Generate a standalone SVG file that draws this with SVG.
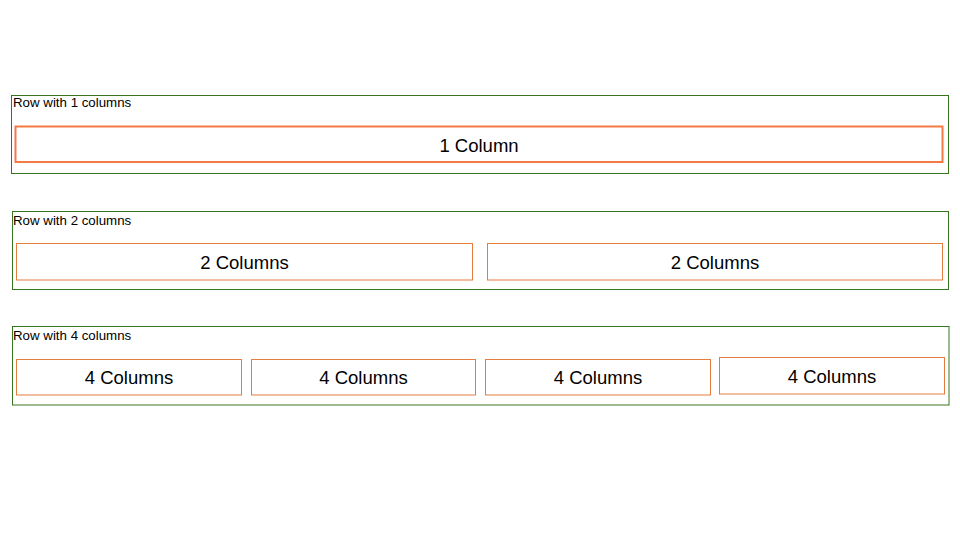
<svg xmlns="http://www.w3.org/2000/svg" width="960" height="540" viewBox="0 0 960 540">
<style>
.row{fill:#fff;stroke:#38761d;stroke-width:1}
.col{fill:#fff;stroke:#e47d3e;stroke-width:1}
.col1{fill:#fff;stroke:#f37a45;stroke-width:2}
.lbl{font-family:"Liberation Sans",Arial,sans-serif;font-size:13.3px;fill:#000}
.ct{font-family:"Liberation Sans",Arial,sans-serif;font-size:18.5px;fill:#000;text-anchor:middle}
</style>
<rect width="960" height="540" fill="#fff"/>
<g id="row1">
<rect class="row" x="11.5" y="95.5" width="937" height="78"/>
<text class="lbl" x="13" y="106.5">Row with 1 columns</text>
<g id="r1c1"><rect class="col1" x="15.5" y="126.5" width="927" height="35.5"/><text class="ct" x="479" y="151.5">1 Column</text></g>
</g>
<g id="row2">
<rect class="row" x="12.5" y="211.5" width="936" height="78"/>
<text class="lbl" x="13" y="224.5">Row with 2 columns</text>
<g id="r2c1"><rect class="col" x="16.5" y="243.5" width="456" height="36.5"/><text class="ct" x="244.5" y="268.5">2 Columns</text></g>
<g id="r2c2"><rect class="col" x="487.5" y="243.5" width="455" height="36.5"/><text class="ct" x="715" y="268.5">2 Columns</text></g>
</g>
<g id="row3">
<rect class="row" x="12.5" y="326.5" width="936.5" height="78.5"/>
<text class="lbl" x="13" y="339.5">Row with 4 columns</text>
<g id="r3c1"><rect class="col" x="16.5" y="359.5" width="225" height="35.5"/><text class="ct" x="129" y="384">4 Columns</text></g>
<g id="r3c2"><rect class="col" x="251.5" y="359.5" width="224" height="35.5"/><text class="ct" x="363.5" y="384">4 Columns</text></g>
<g id="r3c3"><rect class="col" x="485.5" y="359.5" width="225" height="35.5"/><text class="ct" x="598" y="384">4 Columns</text></g>
<g id="r3c4"><rect class="col" x="719.5" y="357.5" width="225" height="36.5"/><text class="ct" x="832" y="382.5">4 Columns</text></g>
</g>
</svg>
